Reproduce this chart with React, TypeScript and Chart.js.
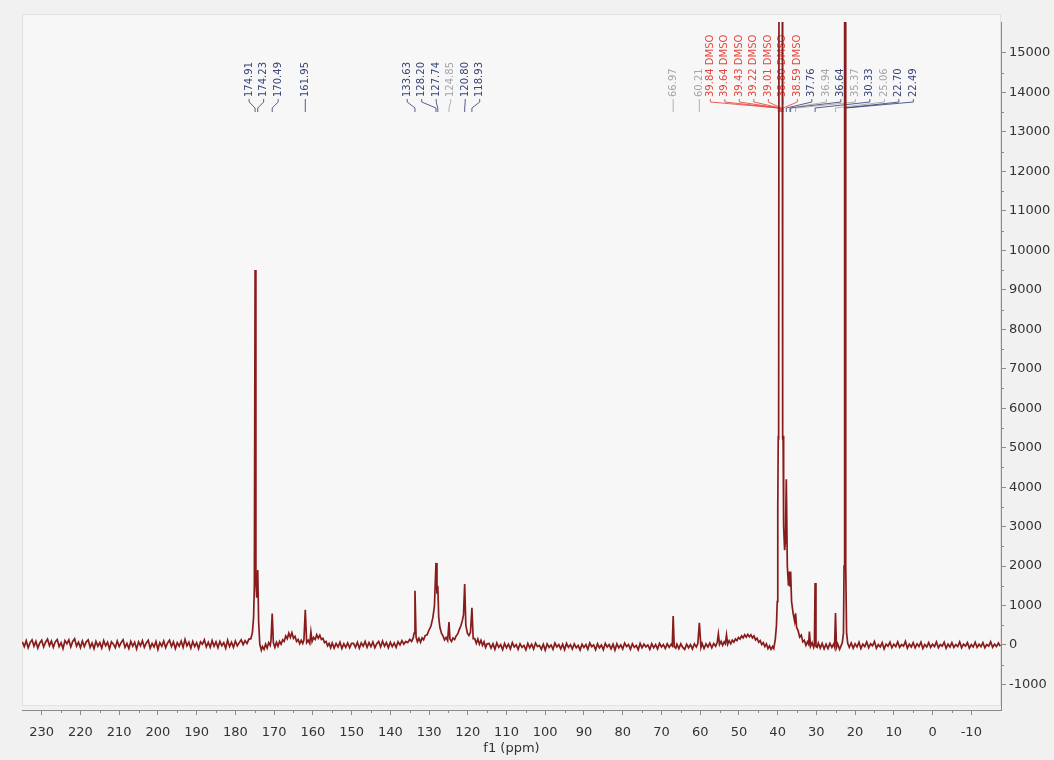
import React, { useEffect, useRef } from 'react';
import { Chart, registerables } from 'chart.js';

Chart.register(...registerables);

// ---- 13C spectrum, [shift (ppm), intensity] ----
const downfieldBaseline: [number, number][] = [
  [235, 80], [234.5, -40], [234, 110], [233.5, -70], [233, 60], [232.5, 130], [232, -30], [231.5, 90],
  [231, -80], [230.5, 50], [230, 120], [229.5, -50], [229, 70], [228.5, 150], [228, -20], [227.5, 100],
  [227, -60], [226.5, 80], [226, 140], [225.5, -40], [225, 60], [224.5, -90], [224, 110], [223.5, 30],
  [223, 130], [222.5, -50], [222, 90], [221.5, 160], [221, -30], [220.5, 70], [220, -70], [219.5, 100],
  [219, -40], [218.5, 80], [218, 130], [217.5, -60], [217, 50], [216.5, -90], [216, 90], [215.5, -30],
  [215, 60], [214.5, -80], [214, 110], [213.5, -20], [213, 70], [212.5, -100], [212, 80], [211.5, 20],
  [211, -70], [210.5, 100], [210, -40], [209.5, 60], [209, 130], [208.5, -60], [208, 40], [207.5, -90],
  [207, 90], [206.5, -30], [206, 70], [205.5, -100], [205, 80], [204.5, -20], [204, 110], [203.5, -60],
  [203, 50], [202.5, 120], [202, -80], [201.5, 40], [201, -50], [200.5, 90], [200, -110], [199.5, 60],
  [199, -30], [198.5, 100], [198, -70], [197.5, 50], [197, 120], [196.5, -40], [196, 80], [195.5, -90],
  [195, 60], [194.5, -30], [194, 100], [193.5, -60], [193, 140], [192.5, -20], [192, 70], [191.5, -80],
  [191, 90], [190.5, -40], [190, 60], [189.5, -90], [189, 80], [188.5, 20], [188, 130], [187.5, -50],
  [187, 70], [186.5, -60], [186, 110], [185.5, -30], [185, 80], [184.5, -70], [184, 90], [183.5, -20],
  [183, 60], [182.5, -80], [182, 120], [181.5, -40], [181, 70], [180.5, -60], [180, 100], [179.5, -20],
  [179, 60], [178.5, 130], [178, 10], [177.5, 110], [177, 40], [176.5, 150],
];

const carbonylRegion: [number, number][] = [
  [176.0, 160], [175.6, 320], [175.3, 700], [175.1, 1500], [174.91, 9500], [174.7, 1600],
  [174.5, 1200], [174.23, 1900], [174.0, 600], [173.7, 20], [173.3, -130], [173.0, -40],
  [172.6, -110], [172.2, 20], [171.8, -80], [171.4, 60], [171.0, -10], [170.8, 120], [170.49, 800],
  [170.2, 60], [169.8, -60], [169.4, 70], [169.0, -30], [168.6, 90], [168.2, 20], [167.8, 130],
  [167.4, 90], [167.0, 230], [166.6, 160], [166.2, 300], [165.8, 190], [165.4, 310], [165.0, 170],
  [164.6, 220], [164.2, 90], [163.8, 140], [163.4, 30], [163.0, 120], [162.6, 40], [162.3, 130],
  [161.95, 890], [161.6, 60], [161.2, 120], [160.8, 40], [160.5, 330], [160.2, 90], [159.8, 190],
  [159.4, 140], [159.0, 260], [158.6, 170], [158.2, 250], [157.8, 140], [157.4, 170], [157.0, 60],
  [156.6, 90], [156.2, -20], [155.8, 40], [155.4, -70], [155.0, 50], [154.5, -80], [154, 40],
  [153.5, -50], [153, 70], [152.5, -90], [152, 30], [151.5, -60], [151, 50], [150.5, -70], [150, 40],
];

const aromaticBaseline: [number, number][] = [
  [149.5, 40], [149, -60], [148.5, 70], [148, -80], [147.5, 50], [147, -30], [146.5, 90], [146, -60],
  [145.5, 60], [145, -40], [144.5, 80], [144, -70], [143.5, 30], [143, 90], [142.5, -50], [142, 100],
  [141.5, -30], [141, 60], [140.5, -70], [140, 70], [139.5, -40], [139, 50], [138.5, -60], [138, 80],
  [137.5, 0], [137, 110], [136.5, 20], [136, 90], [135.5, 60], [135, 140], [134.5, 90],
];

const aromaticRegion: [number, number][] = [
  [134.1, 180], [133.85, 300], [133.63, 1375], [133.35, 200], [133.0, 80], [132.6, 170], [132.2, 70],
  [131.8, 180], [131.4, 130], [131.0, 240], [130.5, 260], [130.0, 380], [129.5, 480], [129.0, 700],
  [128.6, 1000], [128.2, 2080], [127.95, 1300], [127.74, 1500], [127.5, 700], [127.2, 450],
  [126.8, 300], [126.4, 230], [126.0, 130], [125.6, 190], [125.2, 110], [124.85, 580],
  [124.6, 150], [124.2, 90], [123.8, 180], [123.4, 140], [123.0, 230], [122.6, 280], [122.2, 390],
  [121.8, 480], [121.4, 620], [121.1, 760], [120.8, 1545], [120.5, 500], [120.1, 300],
  [119.7, 240], [119.3, 320], [118.93, 940], [118.6, 160], [118.2, 160], [117.8, 40], [117.4, 150],
  [117.0, 20], [116.6, 120], [116.2, -10], [115.8, 80], [115.4, -60], [115.0, 30],
];

const midfieldBaseline: [number, number][] = [
  [114.5, 40], [114, -80], [113.5, 30], [113, -110], [112.5, 50], [112, -60], [111.5, 10], [111, -120],
  [110.5, 40], [110, -70], [109.5, 20], [109, -100], [108.5, 60], [108, -50], [107.5, 10], [107, -110],
  [106.5, 30], [106, -60], [105.5, -10], [105, -120], [104.5, 40], [104, -70], [103.5, 20], [103, -100],
  [102.5, 50], [102, -40], [101.5, -10], [101, -110], [100.5, 20], [100, -130], [99.5, 30], [99, -60],
  [98.5, 0], [98, -110], [97.5, 50], [97, -50], [96.5, 10], [96, -100], [95.5, 20], [95, -120],
  [94.5, 40], [94, -60], [93.5, 10], [93, -100], [92.5, 30], [92, -70], [91.5, -10], [91, -130],
  [90.5, 20], [90, -60], [89.5, 10], [89, -110], [88.5, 50], [88, -40], [87.5, 0], [87, -120],
  [86.5, 30], [86, -70], [85.5, 0], [85, -120], [84.5, 40], [84, -50], [83.5, 10], [83, -100],
  [82.5, 20], [82, -130], [81.5, 30], [81, -70], [80.5, 0], [80, -100], [79.5, 50], [79, -40],
  [78.5, 10], [78, -110], [77.5, 30], [77, -60], [76.5, -10], [76, -120], [75.5, 40], [75, -70],
  [74.5, 20], [74, -50], [73.5, 0], [73, -110], [72.5, 30], [72, -70], [71.5, 10], [71, -100],
  [70.5, 40], [70, -50], [69.5, 10], [69, -90], [68.5, 30], [68, -60], [67.5, 20], [67.2, -20],
];

const aliphaticRegion: [number, number][] = [
  [66.97, 735], [66.7, -40], [66.3, -80], [66, 20], [65.5, -90], [65, 30], [64.5, -60], [64, -110],
  [63.5, 20], [63, -70], [62.5, 10], [62, -100], [61.5, 30], [61, -50], [60.6, 40], [60.21, 560],
  [59.8, -60], [59.5, 40], [59, -90], [58.5, 30], [58, -50], [57.5, 50], [57, -70], [56.5, 40],
  [56, -30], [55.6, 60], [55.3, 280], [55.0, 10], [54.6, 90], [54.2, -10], [53.8, 80], [53.5, 30],
  [53.2, 255], [52.9, 20], [52.5, 110], [52.1, 30], [51.7, 120], [51.3, 70], [50.9, 150],
  [50.5, 110], [50.1, 190], [49.7, 150], [49.3, 230], [48.9, 180], [48.5, 260], [48.1, 200],
  [47.7, 270], [47.3, 210], [46.9, 260], [46.5, 180], [46.1, 230], [45.7, 130], [45.3, 170],
  [44.9, 70], [44.5, 110], [44.1, 10], [43.7, 60], [43.3, -40], [42.9, 30], [42.5, -90],
  [42.1, -20], [41.7, -110], [41.3, -40], [41.0, -90], [40.6, 150], [40.3, 500], [40.1, 1100],
  [40.0, 1800], [39.92, 3500], [39.84, 5300], [39.74, 5200], [39.64, 18000], [39.54, 17000],
  [39.43, 32000], [39.33, 26000], [39.22, 37000], [39.12, 26000], [39.01, 32000], [38.91, 17000],
  [38.8, 18000], [38.7, 5200], [38.59, 5300], [38.45, 3000], [38.2, 2400], [38.0, 2600],
  [37.76, 4200], [37.5, 2000], [37.2, 1500], [36.94, 1860], [36.8, 1500], [36.64, 1860],
  [36.4, 1100], [36.0, 800], [35.6, 600], [35.37, 800], [35.1, 450], [34.7, 360], [34.3, 200],
  [33.9, 250], [33.5, 80], [33.1, 120], [32.7, -10], [32.3, 80], [32.0, 20], [31.8, 340],
  [31.5, -30], [31.1, 60], [30.7, -60], [30.5, 20], [30.33, 1570], [30.1, -40], [29.8, -60],
  [29.5, 50], [29, -80], [28.5, 40], [28, -100], [27.5, 20], [27, -90], [26.5, 40], [26, -60],
  [25.5, 30], [25.3, -40], [25.06, 810], [24.8, -60], [24.5, 30], [24, -110], [23.5, 10],
  [23.3, 60], [23.0, 300], [22.85, 2000], [22.7, 42000], [22.6, 30000], [22.49, 42000],
  [22.35, 2000], [22.2, 300], [21.9, 40],
];

const upfieldBaseline: [number, number][] = [
  [21.5, -60], [21, 50], [20.5, -80], [20, 30], [19.5, -50], [19, 70], [18.5, -90], [18, 20],
  [17.5, -40], [17, 80], [16.5, -70], [16, 30], [15.5, -20], [15, 90], [14.5, -80], [14, 10],
  [13.5, -50], [13, 60], [12.5, -100], [12, 20], [11.5, -30], [11, 70], [10.5, -70], [10, 20],
  [9.5, -40], [9, 80], [8.5, -60], [8, 10], [7.5, -30], [7, 90], [6.5, -80], [6, 20],
  [5.5, -50], [5, 60], [4.5, -70], [4, 30], [3.5, -40], [3, 70], [2.5, -90], [2, 10],
  [1.5, -50], [1, 60], [0.5, -60], [0, 20], [-0.5, -40], [-1, 80], [-1.5, -70], [-2, 10],
  [-2.5, -30], [-3, 70], [-3.5, -80], [-4, 20], [-4.5, -50], [-5, 60], [-5.5, -60], [-6, 10],
  [-6.5, -40], [-7, 80], [-7.5, -70], [-8, 20], [-8.5, -30], [-9, 60], [-9.5, -80], [-10, 10],
  [-10.5, -50], [-11, 70], [-11.5, -60], [-12, 20], [-12.5, -40], [-13, 60], [-13.5, -70], [-14, 10],
  [-14.5, -30], [-15, 80], [-15.5, -60], [-16, 20], [-16.5, -40], [-17, 50], [-17.5, -30],
];

// ---- peak annotations ----
const peakLabelPpm = [
  174.91, 174.23, 170.49, 161.95,
  133.63, 128.2, 127.74, 124.85, 120.8, 118.93,
  66.97, 60.21,
  39.84, 39.64, 39.43, 39.22, 39.01, 38.8, 38.59,
  37.76, 36.94, 36.64, 35.37, 30.33, 25.06, 22.7, 22.49,
];
const solventPeaks = [39.84, 39.64, 39.43, 39.22, 39.01, 38.8, 38.59];
const minorPeaks = [124.85, 66.97, 60.21, 36.94, 35.37, 25.06];

// ---- axes ----
const ppmMin = -17.67;
const ppmMax = 235.09;
const ppmTicks = [230, 220, 210, 200, 190, 180, 170, 160, 150, 140, 130, 120, 110, 100, 90, 80, 70, 60, 50, 40, 30, 20, 10, 0, -10];
const intensityMin = -1647;
const intensityMax = 15785;
const intensityTicks = [-1000, 0, 1000, 2000, 3000, 4000, 5000, 6000, 7000, 8000, 9000, 10000, 11000, 12000, 13000, 14000, 15000];

const FONT = "'DejaVu Sans', Verdana, sans-serif";
const LABEL_NAVY = '#3a4479';
const LABEL_GRAY = '#a5a5a5';
const LABEL_RED = '#e4473d';
const AXIS_GRAY = '#8a8a8a';

function labelColor(ppm: number): string {
  if (solventPeaks.includes(ppm)) return LABEL_RED;
  if (minorPeaks.includes(ppm)) return LABEL_GRAY;
  return LABEL_NAVY;
}

function labelText(ppm: number): string {
  const t = ppm.toFixed(2);
  return solventPeaks.includes(ppm) ? `${t} DMSO` : t;
}

// Spread crowded labels: overlapping groups are centred over the span of their peaks.
function spreadLabels(desired: number[], spacing: number, minGap: number): number[] {
  const order = desired.map((_, i) => i).sort((a, b) => desired[a] - desired[b]);
  type Group = { members: number[]; pos: number[] };
  const place = (members: number[]): Group => {
    const xs = members.map((m) => desired[m]);
    const centre = (Math.min(...xs) + Math.max(...xs)) / 2;
    const n = members.length;
    return { members, pos: members.map((_, k) => centre + (k - (n - 1) / 2) * spacing) };
  };
  let groups: Group[] = order.map((i) => place([i]));
  let merged = true;
  while (merged) {
    merged = false;
    for (let g = 0; g < groups.length - 1; g++) {
      const a = groups[g];
      const b = groups[g + 1];
      if (a.pos[a.pos.length - 1] + minGap > b.pos[0]) {
        groups.splice(g, 2, place([...a.members, ...b.members]));
        merged = true;
        break;
      }
    }
  }
  const out = new Array(desired.length).fill(0);
  groups.forEach((gr) => gr.members.forEach((m, k) => (out[m] = gr.pos[k])));
  return out;
}

const panelPlugin = {
  id: 'panel',
  beforeDraw(chart: any) {
    const { ctx, chartArea: a, width, height } = chart;
    ctx.save();
    ctx.fillStyle = '#f1f1f1';
    ctx.fillRect(0, 0, width, height);
    ctx.fillStyle = '#f7f7f7';
    ctx.fillRect(a.left, a.top - 8, a.right - a.left, a.bottom - a.top + 4);
    ctx.strokeStyle = '#e2e2e2';
    ctx.lineWidth = 1;
    ctx.strokeRect(a.left + 0.5, a.top - 7.5, a.right - a.left - 1, a.bottom - a.top + 3);
    ctx.restore();
  },
};

const peakLabelPlugin = {
  id: 'peakLabels',
  beforeDatasetsDraw(chart: any) {
    const { ctx } = chart;
    const xs = chart.scales.x;
    const peakX = peakLabelPpm.map((p) => xs.getPixelForValue(p));
    const labelX = spreadLabels(peakX, 14.5, 10.5);
    const textBottom = 97;
    ctx.save();
    ctx.font = `10px ${FONT}`;
    ctx.textAlign = 'left';
    ctx.textBaseline = 'middle';
    peakLabelPpm.forEach((p, i) => {
      const col = labelColor(p);
      const lx = labelX[i];
      const px = peakX[i];
      ctx.strokeStyle = col;
      ctx.globalAlpha = 0.85;
      ctx.lineWidth = 1;
      ctx.beginPath();
      ctx.moveTo(lx, textBottom + 2);
      ctx.lineTo(lx, textBottom + 5);
      ctx.lineTo(px, textBottom + 11);
      ctx.lineTo(px, textBottom + 15);
      ctx.stroke();
      ctx.globalAlpha = 1;
      ctx.fillStyle = col;
      ctx.save();
      ctx.translate(lx, textBottom);
      ctx.rotate(-Math.PI / 2);
      ctx.fillText(labelText(p), 0, 0);
      ctx.restore();
    });
    ctx.restore();
  },
};

const minorTickPlugin = {
  id: 'minorTicks',
  afterDraw(chart: any) {
    const { ctx, chartArea: a } = chart;
    const xs = chart.scales.x;
    const ys = chart.scales.y;
    ctx.save();
    ctx.strokeStyle = AXIS_GRAY;
    ctx.lineWidth = 1;
    ctx.beginPath();
    for (let i = 0; i < ppmTicks.length - 1; i++) {
      const v = (ppmTicks[i] + ppmTicks[i + 1]) / 2;
      const x = Math.round(xs.getPixelForValue(v)) + 0.5;
      ctx.moveTo(x, a.bottom);
      ctx.lineTo(x, a.bottom + 3);
    }
    for (let i = 0; i < intensityTicks.length - 1; i++) {
      const v = (intensityTicks[i] + intensityTicks[i + 1]) / 2;
      const y = Math.round(ys.getPixelForValue(v)) + 0.5;
      ctx.moveTo(a.right, y);
      ctx.lineTo(a.right + 3, y);
    }
    ctx.stroke();
    ctx.restore();
  },
};

export default function App() {
  const canvasRef = useRef<HTMLCanvasElement | null>(null);

  useEffect(() => {
    if (!canvasRef.current) return;
    const spectrum = [
      ...downfieldBaseline,
      ...carbonylRegion,
      ...aromaticBaseline,
      ...aromaticRegion,
      ...midfieldBaseline,
      ...aliphaticRegion,
      ...upfieldBaseline,
    ].map(([x, y]) => ({ x, y }));

    const tickFont = { family: FONT, size: 13 };
    const chart = new Chart(canvasRef.current, {
      type: 'line',
      data: {
        datasets: [
          {
            data: spectrum,
            borderColor: '#881c1c',
            borderWidth: 1.7,
            pointRadius: 0,
            tension: 0,
            fill: false,
          },
        ],
      },
      options: {
        animation: false,
        responsive: false,
        devicePixelRatio: 1,
        layout: { padding: { left: 22, top: 22, right: 0, bottom: 0 } },
        plugins: { legend: { display: false }, tooltip: { enabled: false } },
        scales: {
          x: {
            type: 'linear',
            reverse: true,
            min: ppmMin,
            max: ppmMax,
            position: 'bottom',
            afterBuildTicks: (s: any) => {
              s.ticks = ppmTicks.map((value) => ({ value }));
            },
            afterFit: (s: any) => {
              s.height = 50;
            },
            border: { display: true, color: AXIS_GRAY, width: 1 },
            grid: { drawOnChartArea: false, drawTicks: true, tickLength: 5, color: AXIS_GRAY },
            ticks: {
              autoSkip: false,
              maxRotation: 0,
              padding: 10,
              color: '#333333',
              font: tickFont,
              callback: (v: any) => String(v),
            },
            title: {
              display: true,
              text: 'f1 (ppm)',
              color: '#333333',
              font: tickFont,
              padding: { top: 0, bottom: 4 },
            },
          },
          y: {
            type: 'linear',
            position: 'right',
            min: intensityMin,
            max: intensityMax,
            afterBuildTicks: (s: any) => {
              s.ticks = intensityTicks.map((value) => ({ value }));
            },
            afterFit: (s: any) => {
              s.width = 53;
            },
            border: { display: true, color: AXIS_GRAY, width: 1 },
            grid: { drawOnChartArea: false, drawTicks: true, tickLength: 5, color: AXIS_GRAY },
            ticks: {
              autoSkip: false,
              padding: 3,
              color: '#333333',
              font: tickFont,
              callback: (v: any) => String(v),
            },
          },
        },
      },
      plugins: [panelPlugin, peakLabelPlugin, minorTickPlugin],
    } as any);
    return () => chart.destroy();
  }, []);

  return (
    <div style={{ position: 'absolute', left: 0, top: 0, width: 1054, height: 760 }}>
      <canvas ref={canvasRef} width={1054} height={760} style={{ display: 'block' }} />
    </div>
  );
}
